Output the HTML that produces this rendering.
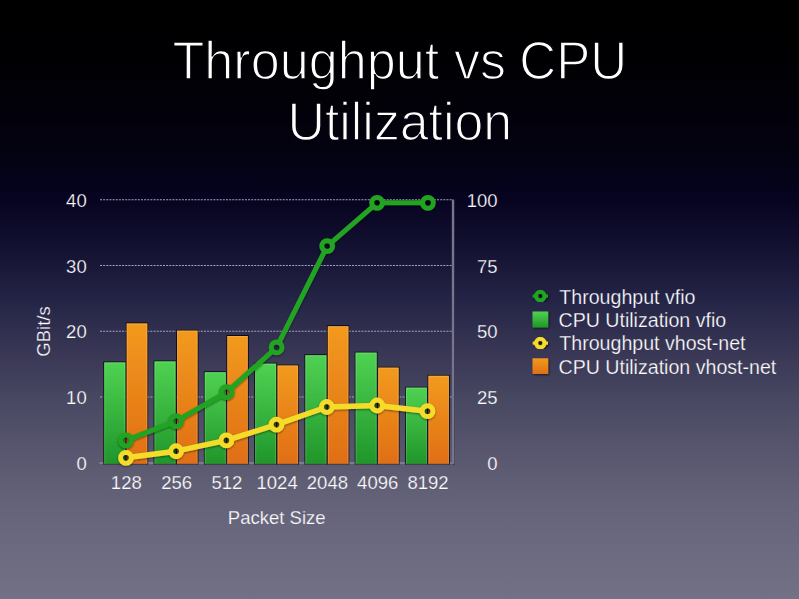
<!DOCTYPE html>
<html><head><meta charset="utf-8"><title>Throughput vs CPU Utilization</title>
<style>
html,body{margin:0;padding:0;background:#000;}
body{width:799px;height:599px;overflow:hidden;}
svg{display:block;}
text{font-family:"Liberation Sans", Arial, sans-serif;}
</style></head><body>
<svg width="799" height="599" viewBox="0 0 799 599">
<defs>
<linearGradient id="bg" gradientUnits="userSpaceOnUse" x1="0" y1="0" x2="0" y2="599">
<stop offset="0.0000" stop-color="rgb(0,0,0)"/>
<stop offset="0.0835" stop-color="rgb(0,0,2)"/>
<stop offset="0.1669" stop-color="rgb(2,1,8)"/>
<stop offset="0.2504" stop-color="rgb(3,2,16)"/>
<stop offset="0.3339" stop-color="rgb(6,4,32)"/>
<stop offset="0.4174" stop-color="rgb(20,18,50)"/>
<stop offset="0.5008" stop-color="rgb(36,36,70)"/>
<stop offset="0.5843" stop-color="rgb(56,54,84)"/>
<stop offset="0.6678" stop-color="rgb(72,72,98)"/>
<stop offset="0.7513" stop-color="rgb(88,86,110)"/>
<stop offset="0.8347" stop-color="rgb(100,98,120)"/>
<stop offset="0.9182" stop-color="rgb(108,106,128)"/>
<stop offset="1.0000" stop-color="rgb(115,113,133)"/>
</linearGradient>
<linearGradient id="bgr" href="#bg" gradientUnits="userSpaceOnUse" x1="331.5" y1="0" x2="-267.5" y2="0"/>
<linearGradient id="gG" x1="0" y1="0" x2="0" y2="1">
<stop offset="0" stop-color="#4fd252"/>
<stop offset="1" stop-color="#20962a"/>
</linearGradient>
<linearGradient id="gO" x1="0" y1="0" x2="0" y2="1">
<stop offset="0" stop-color="#f29a1e"/>
<stop offset="1" stop-color="#e06e14"/>
</linearGradient>
<filter id="sh" x="-20%" y="-20%" width="140%" height="140%">
<feDropShadow dx="1" dy="1" stdDeviation="0.8" flood-color="#000" flood-opacity="0.6"/>
</filter>
<filter id="shl" x="-20%" y="-20%" width="140%" height="140%">
<feMorphology in="SourceAlpha" operator="dilate" radius="0.3" result="d"/>
<feOffset in="d" dx="0.3" dy="0.6" result="o"/>
<feGaussianBlur in="o" stdDeviation="0.8" result="b"/>
<feComponentTransfer in="b" result="s"><feFuncA type="linear" slope="0.5"/></feComponentTransfer>
<feMerge><feMergeNode in="s"/><feMergeNode in="SourceGraphic"/></feMerge>
</filter>
<filter id="shb" x="-20%" y="-20%" width="140%" height="140%">
<feMorphology in="SourceAlpha" operator="dilate" radius="0.7" result="d"/>
<feOffset in="d" dx="0.3" dy="0.3" result="o"/>
<feGaussianBlur in="o" stdDeviation="0.6" result="b"/>
<feComponentTransfer in="b" result="s"><feFuncA type="linear" slope="0.8"/></feComponentTransfer>
<feMerge><feMergeNode in="s"/><feMergeNode in="SourceGraphic"/></feMerge>
</filter>
</defs>
<rect x="0" y="0" width="799" height="599" fill="url(#bg)"/>

<text transform="translate(172.4,0) scale(0.985,1)" x="0" y="79.1" font-size="53" fill="#ffffff" stroke="url(#bg)" stroke-width="1.4">Throughput</text>
<text transform="translate(454.0,0) scale(0.98,1)" x="0" y="79.1" font-size="53" fill="#ffffff" stroke="url(#bg)" stroke-width="1.4">vs</text>
<text transform="translate(519.3,0) scale(0.963,1)" x="0" y="79.1" font-size="53" fill="#ffffff" stroke="url(#bg)" stroke-width="1.4">CPU</text>
<text transform="translate(399.85,0) scale(0.978,1)" x="0" y="139.6" text-anchor="middle" font-size="53" fill="#ffffff" stroke="url(#bg)" stroke-width="1.4">Utilization</text>
<line x1="100" y1="397.05" x2="452.7" y2="397.05" stroke="#a4a4bc" stroke-width="1.1" stroke-dasharray="2 1.15"/>
<line x1="100" y1="331.30" x2="452.7" y2="331.30" stroke="#a4a4bc" stroke-width="1.1" stroke-dasharray="2 1.15"/>
<line x1="100" y1="265.55" x2="452.7" y2="265.55" stroke="#a4a4bc" stroke-width="1.1" stroke-dasharray="2 1.15"/>
<line x1="100" y1="199.80" x2="452.7" y2="199.80" stroke="#a4a4bc" stroke-width="1.1" stroke-dasharray="2 1.15"/>
<line x1="99.5" y1="463.0" x2="453.7" y2="463.0" stroke="#88879c" stroke-width="1.5"/>
<g filter="url(#shb)">
<rect x="104.30" y="362.5" width="20.900000000000002" height="101.10" fill="url(#gG)"/>
<rect x="126.80" y="323.5" width="20.400000000000002" height="140.10" fill="url(#gO)"/>
<rect x="154.58" y="361.5" width="20.900000000000002" height="102.10" fill="url(#gG)"/>
<rect x="177.08" y="330.75" width="20.400000000000002" height="132.85" fill="url(#gO)"/>
<rect x="204.86" y="372.25" width="20.900000000000002" height="91.35" fill="url(#gG)"/>
<rect x="227.36" y="336.0" width="20.400000000000002" height="127.60" fill="url(#gO)"/>
<rect x="255.14" y="363.75" width="20.900000000000002" height="99.85" fill="url(#gG)"/>
<rect x="277.64" y="365.6" width="20.400000000000002" height="98.00" fill="url(#gO)"/>
<rect x="305.42" y="355.25" width="20.900000000000002" height="108.35" fill="url(#gG)"/>
<rect x="327.92" y="326.25" width="20.400000000000002" height="137.35" fill="url(#gO)"/>
<rect x="355.70" y="352.75" width="20.900000000000002" height="110.85" fill="url(#gG)"/>
<rect x="378.20" y="367.75" width="20.400000000000002" height="95.85" fill="url(#gO)"/>
<rect x="405.98" y="387.75" width="20.900000000000002" height="75.85" fill="url(#gG)"/>
<rect x="428.48" y="375.9" width="20.400000000000002" height="87.70" fill="url(#gO)"/>
</g>
<rect x="104.80" y="363.0" width="19.900000000000002" height="101.10" fill="none" stroke="#ffffff" stroke-opacity="0.16" stroke-width="1"/>
<rect x="127.30" y="324.0" width="19.400000000000002" height="140.10" fill="none" stroke="#ffffff" stroke-opacity="0.16" stroke-width="1"/>
<rect x="155.08" y="362.0" width="19.900000000000002" height="102.10" fill="none" stroke="#ffffff" stroke-opacity="0.16" stroke-width="1"/>
<rect x="177.58" y="331.25" width="19.400000000000002" height="132.85" fill="none" stroke="#ffffff" stroke-opacity="0.16" stroke-width="1"/>
<rect x="205.36" y="372.75" width="19.900000000000002" height="91.35" fill="none" stroke="#ffffff" stroke-opacity="0.16" stroke-width="1"/>
<rect x="227.86" y="336.5" width="19.400000000000002" height="127.60" fill="none" stroke="#ffffff" stroke-opacity="0.16" stroke-width="1"/>
<rect x="255.64" y="364.25" width="19.900000000000002" height="99.85" fill="none" stroke="#ffffff" stroke-opacity="0.16" stroke-width="1"/>
<rect x="278.14" y="366.1" width="19.400000000000002" height="98.00" fill="none" stroke="#ffffff" stroke-opacity="0.16" stroke-width="1"/>
<rect x="305.92" y="355.75" width="19.900000000000002" height="108.35" fill="none" stroke="#ffffff" stroke-opacity="0.16" stroke-width="1"/>
<rect x="328.42" y="326.75" width="19.400000000000002" height="137.35" fill="none" stroke="#ffffff" stroke-opacity="0.16" stroke-width="1"/>
<rect x="356.20" y="353.25" width="19.900000000000002" height="110.85" fill="none" stroke="#ffffff" stroke-opacity="0.16" stroke-width="1"/>
<rect x="378.70" y="368.25" width="19.400000000000002" height="95.85" fill="none" stroke="#ffffff" stroke-opacity="0.16" stroke-width="1"/>
<rect x="406.48" y="388.25" width="19.900000000000002" height="75.85" fill="none" stroke="#ffffff" stroke-opacity="0.16" stroke-width="1"/>
<rect x="428.98" y="376.4" width="19.400000000000002" height="87.70" fill="none" stroke="#ffffff" stroke-opacity="0.16" stroke-width="1"/>
<rect x="451.85" y="199.5" width="2.3" height="264.20" fill="#77758c" filter="url(#sh)"/>
<mask id="mg" maskUnits="userSpaceOnUse" x="0" y="0" width="799" height="599"><rect x="0" y="0" width="799" height="599" fill="#fff"/><circle cx="126" cy="440.4" r="2.7" fill="#000"/><circle cx="176.1" cy="421.2" r="2.7" fill="#000"/><circle cx="226.7" cy="392.2" r="2.7" fill="#000"/><circle cx="276.6" cy="347.4" r="2.7" fill="#000"/><circle cx="327.2" cy="246.1" r="2.7" fill="#000"/><circle cx="377.1" cy="202.8" r="2.7" fill="#000"/><circle cx="427.9" cy="202.8" r="2.7" fill="#000"/></mask><g filter="url(#shl)"><g mask="url(#mg)"><path d="M126.0,440.4 L176.1,421.2 L226.7,392.2 L276.6,347.4 L327.2,246.1 L377.1,202.8 L427.9,202.8" fill="none" stroke="#22a324" stroke-width="5" stroke-linejoin="round"/><circle cx="126" cy="440.4" r="5.35" fill="none" stroke="#22a324" stroke-width="5.1"/><circle cx="176.1" cy="421.2" r="5.35" fill="none" stroke="#22a324" stroke-width="5.1"/><circle cx="226.7" cy="392.2" r="5.35" fill="none" stroke="#22a324" stroke-width="5.1"/><circle cx="276.6" cy="347.4" r="5.35" fill="none" stroke="#22a324" stroke-width="5.1"/><circle cx="327.2" cy="246.1" r="5.35" fill="none" stroke="#22a324" stroke-width="5.1"/><circle cx="377.1" cy="202.8" r="5.35" fill="none" stroke="#22a324" stroke-width="5.1"/><circle cx="427.9" cy="202.8" r="5.35" fill="none" stroke="#22a324" stroke-width="5.1"/></g></g><circle cx="126" cy="440.4" r="2.8" fill="rgba(0,0,0,0.25)"/><circle cx="176.1" cy="421.2" r="2.8" fill="rgba(0,0,0,0.25)"/><circle cx="226.7" cy="392.2" r="2.8" fill="rgba(0,0,0,0.25)"/><circle cx="276.6" cy="347.4" r="2.8" fill="rgba(0,0,0,0.25)"/><circle cx="327.2" cy="246.1" r="2.8" fill="rgba(0,0,0,0.25)"/><circle cx="377.1" cy="202.8" r="2.8" fill="rgba(0,0,0,0.25)"/><circle cx="427.9" cy="202.8" r="2.8" fill="rgba(0,0,0,0.25)"/>
<mask id="my" maskUnits="userSpaceOnUse" x="0" y="0" width="799" height="599"><rect x="0" y="0" width="799" height="599" fill="#fff"/><circle cx="126" cy="457.8" r="2.7" fill="#000"/><circle cx="176.1" cy="451.25" r="2.7" fill="#000"/><circle cx="226.4" cy="440.4" r="2.7" fill="#000"/><circle cx="276.5" cy="424.6" r="2.7" fill="#000"/><circle cx="326.8" cy="407.0" r="2.7" fill="#000"/><circle cx="377.2" cy="405.5" r="2.7" fill="#000"/><circle cx="427.5" cy="411.2" r="2.7" fill="#000"/></mask><g filter="url(#shl)"><g mask="url(#my)"><path d="M126.0,457.8 L176.1,451.2 L226.4,440.4 L276.5,424.6 L326.8,407.0 L377.2,405.5 L427.5,411.2" fill="none" stroke="#f6dc2c" stroke-width="5.4" stroke-linejoin="round"/><circle cx="126" cy="457.8" r="5.35" fill="none" stroke="#f6dc2c" stroke-width="5.1"/><circle cx="176.1" cy="451.25" r="5.35" fill="none" stroke="#f6dc2c" stroke-width="5.1"/><circle cx="226.4" cy="440.4" r="5.35" fill="none" stroke="#f6dc2c" stroke-width="5.1"/><circle cx="276.5" cy="424.6" r="5.35" fill="none" stroke="#f6dc2c" stroke-width="5.1"/><circle cx="326.8" cy="407.0" r="5.35" fill="none" stroke="#f6dc2c" stroke-width="5.1"/><circle cx="377.2" cy="405.5" r="5.35" fill="none" stroke="#f6dc2c" stroke-width="5.1"/><circle cx="427.5" cy="411.2" r="5.35" fill="none" stroke="#f6dc2c" stroke-width="5.1"/></g></g><circle cx="126" cy="457.8" r="2.8" fill="rgba(0,0,0,0.5)"/><circle cx="176.1" cy="451.25" r="2.8" fill="rgba(0,0,0,0.5)"/><circle cx="226.4" cy="440.4" r="2.8" fill="rgba(0,0,0,0.5)"/><circle cx="276.5" cy="424.6" r="2.8" fill="rgba(0,0,0,0.5)"/><circle cx="326.8" cy="407.0" r="2.8" fill="rgba(0,0,0,0.5)"/><circle cx="377.2" cy="405.5" r="2.8" fill="rgba(0,0,0,0.5)"/><circle cx="427.5" cy="411.2" r="2.8" fill="rgba(0,0,0,0.5)"/>
<text x="86.7" y="469.80" text-anchor="end" font-size="18.5" fill="#ffffff" stroke="url(#bg)" stroke-width="0.25">0</text>
<text x="86.7" y="404.05" text-anchor="end" font-size="18.5" fill="#ffffff" stroke="url(#bg)" stroke-width="0.25">10</text>
<text x="86.7" y="338.30" text-anchor="end" font-size="18.5" fill="#ffffff" stroke="url(#bg)" stroke-width="0.25">20</text>
<text x="86.7" y="272.55" text-anchor="end" font-size="18.5" fill="#ffffff" stroke="url(#bg)" stroke-width="0.25">30</text>
<text x="86.7" y="206.80" text-anchor="end" font-size="18.5" fill="#ffffff" stroke="url(#bg)" stroke-width="0.25">40</text>
<text x="497.5" y="469.80" text-anchor="end" font-size="18.5" fill="#ffffff" stroke="url(#bg)" stroke-width="0.25">0</text>
<text x="497.5" y="404.05" text-anchor="end" font-size="18.5" fill="#ffffff" stroke="url(#bg)" stroke-width="0.25">25</text>
<text x="497.5" y="338.30" text-anchor="end" font-size="18.5" fill="#ffffff" stroke="url(#bg)" stroke-width="0.25">50</text>
<text x="497.5" y="272.55" text-anchor="end" font-size="18.5" fill="#ffffff" stroke="url(#bg)" stroke-width="0.25">75</text>
<text x="497.5" y="206.80" text-anchor="end" font-size="18.5" fill="#ffffff" stroke="url(#bg)" stroke-width="0.25">100</text>
<text x="126.30" y="488.8" text-anchor="middle" font-size="18.5" fill="#ffffff" stroke="url(#bg)" stroke-width="0.25">128</text>
<text x="176.58" y="488.8" text-anchor="middle" font-size="18.5" fill="#ffffff" stroke="url(#bg)" stroke-width="0.25">256</text>
<text x="226.86" y="488.8" text-anchor="middle" font-size="18.5" fill="#ffffff" stroke="url(#bg)" stroke-width="0.25">512</text>
<text x="277.14" y="488.8" text-anchor="middle" font-size="18.5" fill="#ffffff" stroke="url(#bg)" stroke-width="0.25">1024</text>
<text x="327.42" y="488.8" text-anchor="middle" font-size="18.5" fill="#ffffff" stroke="url(#bg)" stroke-width="0.25">2048</text>
<text x="377.70" y="488.8" text-anchor="middle" font-size="18.5" fill="#ffffff" stroke="url(#bg)" stroke-width="0.25">4096</text>
<text x="427.98" y="488.8" text-anchor="middle" font-size="18.5" fill="#ffffff" stroke="url(#bg)" stroke-width="0.25">8192</text>
<text x="276.7" y="523.7" text-anchor="middle" font-size="18.5" fill="#ffffff" stroke="url(#bg)" stroke-width="0.25">Packet Size</text>
<text transform="translate(49.7,331.5) rotate(-90)" x="0" y="0" text-anchor="middle" font-size="18.5" fill="#ffffff" stroke="url(#bgr)" stroke-width="0.25">GBit/s</text>
<text x="559.3" y="303.8" font-size="19.6" fill="#ffffff" stroke="url(#bg)" stroke-width="0.25">Throughput vfio</text>
<text x="558.5" y="326.9" font-size="19.6" fill="#ffffff" stroke="url(#bg)" stroke-width="0.25">CPU Utilization vfio</text>
<text x="559.3" y="350.4" font-size="19.6" fill="#ffffff" stroke="url(#bg)" stroke-width="0.25">Throughput vhost-net</text>
<text x="558.5" y="373.6" font-size="19.6" fill="#ffffff" stroke="url(#bg)" stroke-width="0.25">CPU Utilization vhost-net</text>
<mask id="ml1" maskUnits="userSpaceOnUse" x="0" y="0" width="799" height="599"><rect x="0" y="0" width="799" height="599" fill="#fff"/><circle cx="540.3" cy="296.1" r="2.1" fill="#000"/></mask><g filter="url(#sh)"><g mask="url(#ml1)"><line x1="532.7" y1="296.1" x2="548" y2="296.1" stroke="#22a324" stroke-width="3"/><circle cx="540.3" cy="296.1" r="4.2" fill="none" stroke="#22a324" stroke-width="4.2"/></g></g><circle cx="540.3" cy="296.1" r="2.2" fill="rgba(0,0,0,0.3)"/>
<mask id="ml2" maskUnits="userSpaceOnUse" x="0" y="0" width="799" height="599"><rect x="0" y="0" width="799" height="599" fill="#fff"/><circle cx="540.3" cy="343.1" r="2.1" fill="#000"/></mask><g filter="url(#sh)"><g mask="url(#ml2)"><line x1="532.7" y1="343.1" x2="548" y2="343.1" stroke="#f6dc2c" stroke-width="3"/><circle cx="540.3" cy="343.1" r="4.2" fill="none" stroke="#f6dc2c" stroke-width="4.2"/></g></g><circle cx="540.3" cy="343.1" r="2.2" fill="rgba(0,0,0,0.3)"/>
<rect x="532.5" y="311.5" width="15.7" height="16" fill="url(#gG)" filter="url(#sh)"/>
<rect x="532.5" y="358.3" width="15.7" height="15.7" fill="url(#gO)" filter="url(#sh)"/>
</svg>
</body></html>
